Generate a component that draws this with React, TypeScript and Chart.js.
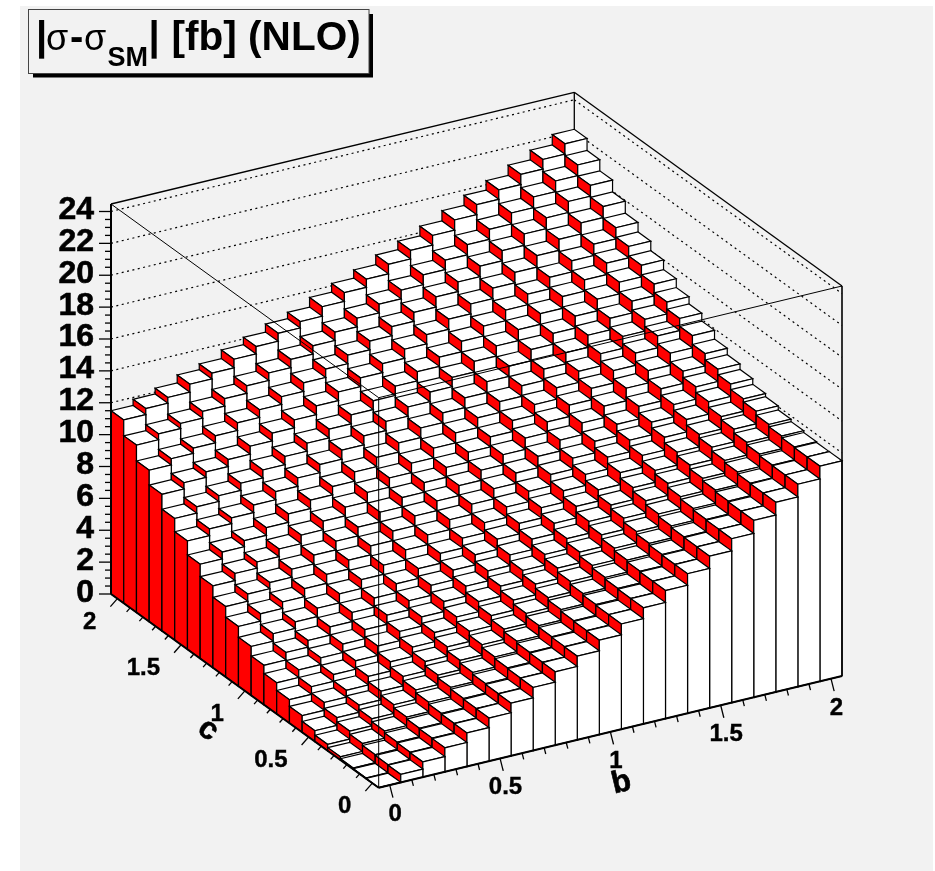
import React, { useEffect, useRef } from "react";
import { Chart, registerables } from "chart.js";

Chart.register(...registerables);

const bBins = [0, 0.1, 0.2, 0.3, 0.4, 0.5, 0.6, 0.7, 0.8, 0.9, 1, 1.1, 1.2, 1.3, 1.4, 1.5, 1.6, 1.7, 1.8, 1.9, 2];
const cBins = [0, 0.1, 0.2, 0.3, 0.4, 0.5, 0.6, 0.7, 0.8, 0.9, 1, 1.1, 1.2, 1.3, 1.4, 1.5, 1.6, 1.7, 1.8, 1.9, 2];

const c00 = [0, 0.5, 0.95, 1.5, 2.1, 2.7, 3.3, 3.95, 4.6, 5.25, 5.92, 6.6, 7.28, 8.03, 8.75, 9.52, 10.28, 11.1, 11.9, 12.7, 13.5];
const c01 = [0.03, 0.53, 0.98, 1.53, 2.12, 2.72, 3.32, 3.97, 4.62, 5.27, 5.94, 6.61, 7.29, 8.04, 8.76, 9.53, 10.29, 11.1, 11.9, 12.7, 13.5];
const c02 = [0.08, 0.58, 1.03, 1.57, 2.17, 2.77, 3.37, 4.02, 4.66, 5.31, 5.98, 6.66, 7.34, 8.08, 8.8, 9.57, 10.33, 11.15, 11.94, 12.74, 13.54];
const c03 = [0.2, 0.7, 1.15, 1.69, 2.29, 2.89, 3.49, 4.13, 4.78, 5.43, 6.1, 6.77, 7.45, 8.2, 8.92, 9.68, 10.44, 11.26, 12.06, 12.85, 13.65];
const c04 = [0.4, 0.9, 1.34, 1.89, 2.48, 3.08, 3.67, 4.32, 4.96, 5.61, 6.27, 6.95, 7.62, 8.37, 9.08, 9.85, 10.6, 11.42, 12.21, 13.01, 13.8];
const c05 = [0.68, 1.17, 1.62, 2.16, 2.75, 3.35, 3.94, 4.58, 5.23, 5.87, 6.54, 7.21, 7.88, 8.63, 9.34, 10.1, 10.86, 11.67, 12.46, 13.26, 14.05];
const c06 = [1.05, 1.54, 1.97, 2.51, 3.09, 3.68, 4.26, 4.9, 5.53, 6.17, 6.82, 7.49, 8.15, 8.89, 9.59, 10.35, 11.09, 11.9, 12.68, 13.47, 14.25];
const c07 = [1.47, 1.95, 2.38, 2.91, 3.5, 4.08, 4.66, 5.29, 5.92, 6.55, 7.21, 7.87, 8.53, 9.26, 9.96, 10.71, 11.45, 12.26, 13.04, 13.82, 14.6];
const c08 = [1.95, 2.43, 2.85, 3.38, 3.95, 4.53, 5.1, 5.73, 6.35, 6.98, 7.62, 8.28, 8.93, 9.66, 10.35, 11.1, 11.83, 12.63, 13.4, 14.18, 14.95];
const c09 = [2.47, 2.94, 3.36, 3.88, 4.45, 5.02, 5.58, 6.2, 6.82, 7.44, 8.08, 8.73, 9.38, 10.1, 10.79, 11.52, 12.25, 13.04, 13.81, 14.58, 15.35];
const c10 = [3.07, 3.54, 3.95, 4.47, 5.04, 5.6, 6.17, 6.79, 7.4, 8.02, 8.66, 9.3, 9.95, 10.66, 11.35, 12.09, 12.81, 13.6, 14.37, 15.13, 15.9];
const c11 = [3.75, 4.21, 4.62, 5.12, 5.68, 6.24, 6.8, 7.4, 8.01, 8.62, 9.25, 9.88, 10.52, 11.23, 11.91, 12.63, 13.35, 14.13, 14.89, 15.64, 16.4];
const c12 = [4.42, 4.87, 5.26, 5.76, 6.31, 6.85, 7.4, 8.0, 8.59, 9.19, 9.81, 10.43, 11.06, 11.75, 12.42, 13.14, 13.84, 14.61, 15.36, 16.1, 16.85];
const c13 = [5.14, 5.58, 5.97, 6.45, 6.99, 7.53, 8.07, 8.66, 9.24, 9.83, 10.44, 11.06, 11.68, 12.36, 13.02, 13.73, 14.43, 15.19, 15.92, 16.66, 17.4];
const c14 = [5.92, 6.35, 6.73, 7.21, 7.74, 8.27, 8.79, 9.37, 9.95, 10.53, 11.13, 11.74, 12.35, 13.03, 13.68, 14.38, 15.06, 15.81, 16.54, 17.27, 18.0];
const c15 = [6.8, 7.22, 7.58, 8.05, 8.56, 9.08, 9.59, 10.16, 10.72, 11.29, 11.87, 12.47, 13.06, 13.73, 14.36, 15.05, 15.72, 16.46, 17.17, 17.89, 18.6];
const c16 = [7.63, 8.03, 8.39, 8.84, 9.34, 9.85, 10.35, 10.9, 11.46, 12.01, 12.59, 13.17, 13.75, 14.41, 15.03, 15.7, 16.37, 17.09, 17.79, 18.5, 19.2];
const c17 = [8.57, 8.96, 9.31, 9.75, 10.25, 10.74, 11.23, 11.78, 12.32, 12.87, 13.43, 14.0, 14.58, 15.22, 15.84, 16.5, 17.15, 17.87, 18.56, 19.26, 19.95];
const c18 = [9.5, 9.89, 10.22, 10.66, 11.14, 11.63, 12.11, 12.65, 13.18, 13.72, 14.27, 14.84, 15.4, 16.04, 16.64, 17.3, 17.94, 18.65, 19.33, 20.02, 20.7];
const c19 = [10.5, 10.87, 11.19, 11.61, 12.08, 12.55, 13.02, 13.54, 14.06, 14.58, 15.12, 15.67, 16.22, 16.84, 17.43, 18.07, 18.7, 19.39, 20.06, 20.73, 21.4];
const c20 = [11.5, 11.88, 12.24, 12.74, 13.1, 13.64, 14.1, 14.6, 15.0, 15.6, 16.15, 16.66, 17.26, 17.8, 18.4, 19.04, 19.67, 20.26, 20.9, 21.5, 22.15];
const rows = [c00, c01, c02, c03, c04, c05, c06, c07, c08, c09, c10, c11, c12, c13, c14, c15, c16, c17, c18, c19, c20];

const zTicks = [0, 2, 4, 6, 8, 10, 12, 14, 16, 18, 20, 22, 24];
const zMinor = [0.5, 1, 1.5, 2.5, 3, 3.5, 4.5, 5, 5.5, 6.5, 7, 7.5, 8.5, 9, 9.5, 10.5, 11, 11.5, 12.5, 13, 13.5, 14.5, 15, 15.5, 16.5, 17, 17.5, 18.5, 19, 19.5, 20.5, 21, 21.5, 22.5, 23, 23.5];
const planeTicks = [0, 0.5, 1, 1.5, 2];
const planeLabels = ["0", "0.5", "1", "1.5", "2"];
const planeMinor = [0.1, 0.2, 0.3, 0.4, 0.6, 0.7, 0.8, 0.9, 1.1, 1.2, 1.3, 1.4, 1.6, 1.7, 1.8, 1.9];

const HALF = 0.05;
const B_MIN = -0.05, B_MAX = 2.05, C_MIN = -0.05, C_MAX = 2.05, Z_MAX = 24.47;
const BIN_RED = "#ff0000";
const FONT = "'Liberation Sans', Arial, sans-serif";

const legoPlugin = {
  id: "lego",
  beforeDraw(chart: any) {
    const ctx = chart.ctx;
    ctx.save();
    ctx.fillStyle = "#ffffff";
    ctx.fillRect(0, 0, 935, 871);
    ctx.fillStyle = "#f2f2f2";
    ctx.fillRect(20, 6, 913, 865);
    ctx.restore();
  },
  afterDatasetsDraw(chart: any) {
    const ctx = chart.ctx;
    const xs = chart.scales.x, cs = chart.scales.c, zs = chart.scales.y;
    const left = xs.left, width = xs.width;
    const CX = 267.7 / 463.3, SB = 111.7 / 463.3, SC = 193.7 / 463.3;
    const P = (b: number, c: number, z: number): [number, number] => {
      const bp = xs.getPixelForValue(b), cp = cs.getPixelForValue(c);
      return [bp - (cp - left) * CX, zs.getPixelForValue(z) - (bp - left) * SB + (left + width - cp) * SC];
    };
    const poly = (pts: [number, number][], fill: string | null) => {
      ctx.beginPath();
      pts.forEach((p, i) => (i ? ctx.lineTo(p[0], p[1]) : ctx.moveTo(p[0], p[1])));
      ctx.closePath();
      if (fill) { ctx.fillStyle = fill; ctx.fill(); }
      ctx.stroke();
    };
    const line = (a: [number, number], b: [number, number], w = 1, color = "#000") => {
      ctx.lineWidth = w; ctx.strokeStyle = color;
      ctx.beginPath(); ctx.moveTo(a[0], a[1]); ctx.lineTo(b[0], b[1]); ctx.stroke();
    };
    const boldText = (s: string, x: number, y: number, extra = 0.4) => {
      ctx.fillText(s, x, y);
      ctx.lineWidth = extra; ctx.strokeStyle = "#000"; ctx.strokeText(s, x, y);
    };
    ctx.save();
    ctx.lineJoin = "miter";

    // back box
    line(P(B_MIN, C_MAX, Z_MAX), P(B_MAX, C_MAX, Z_MAX), 1.3);
    line(P(B_MAX, C_MAX, Z_MAX), P(B_MAX, C_MIN, Z_MAX), 1.3);
    line(P(B_MAX, C_MAX, Z_MAX), P(B_MAX, C_MAX, 0), 1.3);
    ctx.setLineDash([2, 3.5]);
    zTicks.slice(1).forEach((z) => {
      line(P(B_MIN, C_MAX, z), P(B_MAX, C_MAX, z), 1.2);
      line(P(B_MAX, C_MAX, z), P(B_MAX, C_MIN, z), 1.2);
    });
    ctx.setLineDash([]);

    // bars, back to front
    ctx.strokeStyle = "#000";
    ctx.lineWidth = 1.2;
    for (let j = chart.data.datasets.length - 1; j >= 0; j--) {
      const ds = chart.data.datasets[j];
      const c = cBins[j];
      for (let i = ds.data.length - 1; i >= 0; i--) {
        const b = ds.data[i].x, z = ds.data[i].y;
        const b0 = b - HALF, b1 = b + HALF, c0 = c - HALF, c1 = c + HALF;
        poly([P(b0, c0, z), P(b1, c0, z), P(b1, c1, z), P(b0, c1, z)], "#ffffff");
        poly([P(b0, c0, 0), P(b0, c1, 0), P(b0, c1, z), P(b0, c0, z)], BIN_RED);
        poly([P(b0, c0, 0), P(b1, c0, 0), P(b1, c0, z), P(b0, c0, z)], "#ffffff");
      }
    }

    // front box, over the bars
    line(P(B_MIN, C_MIN, Z_MAX), P(B_MIN, C_MIN, 0), 1);
    line(P(B_MIN, C_MAX, Z_MAX), P(B_MIN, C_MIN, Z_MAX), 1);
    line(P(B_MIN, C_MIN, Z_MAX), P(B_MAX, C_MIN, Z_MAX), 1);

    // axes
    line(P(B_MIN, C_MAX, 0), P(B_MIN, C_MAX, Z_MAX), 2);
    line(P(B_MAX, C_MIN, 0), P(B_MAX, C_MIN, Z_MAX), 1.6);
    line(P(B_MIN, C_MAX, 0), P(B_MIN, C_MIN, 0), 2);
    line(P(B_MIN, C_MIN, 0), P(B_MAX, C_MIN, 0), 2);

    ctx.fillStyle = "#000";
    ctx.textBaseline = "alphabetic";

    // z axis
    const x0 = P(B_MIN, C_MAX, 0)[0];
    zTicks.forEach((z) => {
      const y = zs.getPixelForValue(z);
      line([x0, y], [x0 - 12, y], 1.3);
      ctx.font = `bold 32px ${FONT}`;
      ctx.textAlign = "right";
      boldText(String(z), 94, y + 7.5, 0.6);
    });
    zMinor.forEach((z) => {
      const y = zs.getPixelForValue(z);
      line([x0, y], [x0 - 6, y], 1.3);
    });

    // c axis
    ctx.font = `bold 24px ${FONT}`;
    planeTicks.forEach((v, k) => {
      const p = P(B_MIN, v, 0);
      line(p, [p[0] - 7, p[1] + 8], 1.3);
      ctx.textAlign = "right";
      boldText(planeLabels[k], p[0] - 21, p[1] + 30);
    });
    planeMinor.forEach((v) => {
      const p = P(B_MIN, v, 0);
      line(p, [p[0] - 3.5, p[1] + 4], 1.3);
    });

    // b axis
    planeTicks.forEach((v, k) => {
      const p = P(v, C_MIN, 0);
      line(p, [p[0] + 3.2, p[1] + 12.5], 1.3);
      ctx.textAlign = "center";
      boldText(planeLabels[k], p[0] + 5.5, p[1] + 36);
    });
    planeMinor.forEach((v) => {
      const p = P(v, C_MIN, 0);
      line(p, [p[0] + 1.6, p[1] + 6.2], 1.3);
    });

    // axis titles
    ctx.font = `bold 31px ${FONT}`;
    ctx.textAlign = "center";
    ctx.textBaseline = "middle";
    ctx.save();
    ctx.translate(621.5, 783);
    ctx.rotate((-13.5 * Math.PI) / 180);
    boldText("b", 0, 0, 0.6);
    ctx.restore();
    ctx.save();
    ctx.translate(208, 730);
    ctx.rotate((36 * Math.PI) / 180);
    boldText("c", 0, 0, 0.6);
    ctx.restore();
    ctx.textBaseline = "alphabetic";

    // title box
    ctx.fillStyle = "#000";
    ctx.fillRect(33, 14, 340, 63.5);
    ctx.fillStyle = "#f2f2f2";
    ctx.fillRect(28.5, 9.5, 340.5, 64);
    ctx.lineWidth = 1;
    ctx.strokeStyle = "#444";
    ctx.strokeRect(28.5, 9.5, 340.5, 64);
    ctx.fillStyle = "#000";
    ctx.textAlign = "left";
    ctx.font = `bold 40px ${FONT}`;
    ctx.fillText("|", 36, 50);
    ctx.font = `36px ${FONT}`;
    ctx.fillText("σ", 46, 50);
    ctx.font = `bold 40px ${FONT}`;
    ctx.fillText("-", 70, 50);
    ctx.font = `36px ${FONT}`;
    ctx.fillText("σ", 84, 50);
    ctx.font = `bold 27px ${FONT}`;
    ctx.fillText("SM", 107.5, 66);
    ctx.font = `bold 40px ${FONT}`;
    ctx.fillText("|", 148.4, 50);
    ctx.font = `bold 40.6px ${FONT}`;
    ctx.fillText("[fb] (NLO)", 171.5, 50);
    ctx.restore();
  },
};

export default function App() {
  const ref = useRef<HTMLCanvasElement | null>(null);
  useEffect(() => {
    const chart = new Chart(ref.current as HTMLCanvasElement, {
      type: "scatter",
      data: {
        datasets: rows.map((row, j) => ({
          label: `c=${cBins[j]}`,
          data: row.map((z, i) => ({ x: bBins[i], y: z })),
          pointRadius: 0,
          showLine: false,
          xAxisID: "x",
          yAxisID: "y",
        })),
      },
      options: {
        responsive: false,
        animation: false,
        layout: { padding: { left: 378.7, right: 93, top: 204, bottom: 277 } },
        plugins: { legend: { display: false }, tooltip: { enabled: false }, title: { display: false } },
        scales: {
          x: { type: "linear", display: false, min: B_MIN, max: B_MAX },
          c: { type: "linear", axis: "x", display: false, min: C_MIN, max: C_MAX },
          y: { type: "linear", display: false, min: 0, max: Z_MAX },
        },
      } as any,
      plugins: [legoPlugin],
    });
    return () => chart.destroy();
  }, []);
  return (
    <div style={{ position: "absolute", left: 0, top: 0, width: 935, height: 871 }}>
      <canvas ref={ref} width={935} height={871} style={{ display: "block" }} />
    </div>
  );
}
